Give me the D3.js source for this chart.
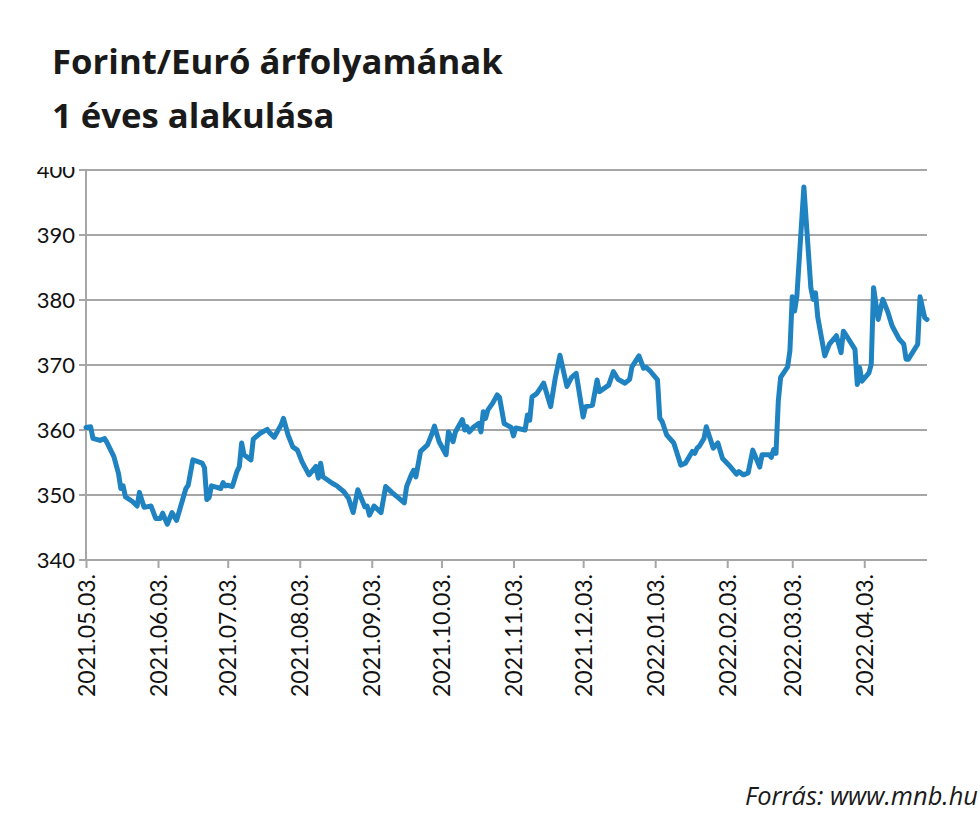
<!DOCTYPE html>
<html>
<head>
<meta charset="utf-8">
<script src="https://cdn.jsdelivr.net/npm/d3@7/dist/d3.min.js"></script>
<style>
  html, body { margin: 0; padding: 0; background: #ffffff; }
  svg { display: block; }
</style>
</head>
<body>
<svg id="chart" width="980" height="819"></svg>
<script>
// ---- DATA ----
const titleLines = ["Forint/Euró árfolyamának", "1 éves alakulása"];
const sourceText = "Forrás: www.mnb.hu";
const yTicks = [340, 350, 360, 370, 380, 390, 400];
const xTickDates = ["2021-05-03","2021-06-03","2021-07-03","2021-08-03","2021-09-03","2021-10-03",
                    "2021-11-03","2021-12-03","2022-01-03","2022-02-03","2022-03-03","2022-04-03"];
const xDomain = ["2021-05-03", "2022-04-30"];
const dates = [
 "2021-05-03","2021-05-05","2021-05-06","2021-05-09","2021-05-11","2021-05-12","2021-05-15","2021-05-17","2021-05-18","2021-05-19",
 "2021-05-20","2021-05-23","2021-05-25","2021-05-26","2021-05-28","2021-05-31","2021-06-02","2021-06-04","2021-06-05","2021-06-07",
 "2021-06-09","2021-06-11","2021-06-15","2021-06-16","2021-06-18","2021-06-22","2021-06-23","2021-06-24","2021-06-25","2021-06-26",
 "2021-06-28","2021-06-30","2021-07-01","2021-07-02","2021-07-03","2021-07-05","2021-07-07","2021-07-08","2021-07-09","2021-07-10",
 "2021-07-13","2021-07-14","2021-07-17","2021-07-20","2021-07-21","2021-07-23","2021-07-26","2021-07-27","2021-07-29","2021-07-31",
 "2021-08-02","2021-08-04","2021-08-07","2021-08-10","2021-08-11","2021-08-12","2021-08-13","2021-08-17","2021-08-19","2021-08-22",
 "2021-08-24","2021-08-26","2021-08-28","2021-08-31","2021-09-01","2021-09-02","2021-09-04","2021-09-07","2021-09-09","2021-09-12",
 "2021-09-14","2021-09-17","2021-09-18","2021-09-20","2021-09-21","2021-09-22","2021-09-24","2021-09-27","2021-09-29","2021-09-30",
 "2021-10-02","2021-10-05","2021-10-06","2021-10-08","2021-10-09","2021-10-12","2021-10-13","2021-10-14","2021-10-15","2021-10-17",
 "2021-10-19","2021-10-20","2021-10-21","2021-10-22","2021-10-23","2021-10-25","2021-10-27","2021-10-28","2021-10-30","2021-11-02",
 "2021-11-03","2021-11-04","2021-11-08","2021-11-09","2021-11-10","2021-11-11","2021-11-13","2021-11-16","2021-11-19","2021-11-21",
 "2021-11-23","2021-11-26","2021-11-28","2021-11-30","2021-12-03","2021-12-04","2021-12-07","2021-12-09","2021-12-10","2021-12-14",
 "2021-12-16","2021-12-18","2021-12-21","2021-12-23","2021-12-24","2021-12-27","2021-12-29","2021-12-30","2022-01-01","2022-01-04",
 "2022-01-05","2022-01-06","2022-01-08","2022-01-11","2022-01-12","2022-01-14","2022-01-16","2022-01-19","2022-01-20","2022-01-21",
 "2022-01-22","2022-01-24","2022-01-25","2022-01-28","2022-01-30","2022-02-01","2022-02-04","2022-02-07","2022-02-08","2022-02-10",
 "2022-02-12","2022-02-14","2022-02-17","2022-02-18","2022-02-21","2022-02-22","2022-02-23","2022-02-24","2022-02-25","2022-02-26",
 "2022-03-01","2022-03-02","2022-03-03","2022-03-04","2022-03-05","2022-03-08","2022-03-11","2022-03-12","2022-03-13","2022-03-14",
 "2022-03-17","2022-03-19","2022-03-22","2022-03-24","2022-03-25","2022-03-26","2022-03-30","2022-03-31","2022-04-01","2022-04-02",
 "2022-04-05","2022-04-06","2022-04-07","2022-04-09","2022-04-11","2022-04-13","2022-04-15","2022-04-18","2022-04-20","2022-04-21",
 "2022-04-22","2022-04-26","2022-04-27","2022-04-29","2022-04-30"
];
const rates = [
 360.4,360.5,358.7,358.4,358.7,358.1,355.9,353.3,351.0,351.4,
 349.7,349.0,348.3,350.4,348.1,348.3,346.4,346.4,347.2,345.5,
 347.3,346.1,351.0,351.5,355.4,354.9,354.2,349.3,349.6,351.4,
 351.2,351.0,351.9,351.4,351.5,351.3,353.6,354.4,358.0,356.2,
 355.4,358.6,359.5,360.1,359.6,358.9,360.8,361.8,359.2,357.4,
 356.9,355.1,353.1,354.4,352.6,354.9,352.8,351.8,351.4,350.5,
 349.5,347.3,350.8,348.2,348.3,346.9,348.3,347.3,351.3,350.3,
 349.7,348.8,351.3,353.1,353.8,352.8,356.7,357.7,359.5,360.6,
 358.2,356.2,359.7,358.2,359.7,361.6,360.0,360.5,359.7,360.5,
 361.0,359.7,362.8,361.8,363.1,364.1,365.4,365.0,361.0,360.4,
 359.1,360.3,360.0,362.3,361.5,365.1,365.6,367.2,363.6,368.0,
 371.5,366.7,368.1,368.7,362.0,363.6,363.8,367.7,365.9,366.9,
 369.0,367.8,367.2,367.8,369.7,371.4,369.5,369.7,369.0,367.7,
 361.8,361.3,359.2,358.0,356.9,354.6,354.9,356.7,356.4,357.2,
 357.5,358.7,360.5,357.2,358.0,355.6,354.5,353.2,353.6,353.1,
 353.4,356.9,354.3,356.2,356.2,355.8,357.0,356.4,364.5,368.1,
 369.7,372.2,380.5,378.3,380.6,397.4,381.9,380.1,381.1,377.3,
 371.4,373.2,374.5,371.9,375.2,374.7,372.4,367.0,369.6,367.5,
 368.8,370.1,381.9,377.0,380.1,378.3,376.0,374.0,373.2,370.9,
 370.9,373.2,380.5,377.3,377.0
];

// ---- CHART ----
const svg = d3.select("#chart");
const W = 980, H = 819;
const plot = { left: 86, right: 927, top: 170, bottom: 560 };
const parse = d3.utcParse("%Y-%m-%d");
const fmt = d3.utcFormat("%Y.%m.%d.");

const data = dates.map((d, i) => ({ date: parse(d), value: rates[i] }));

const x = d3.scaleUtc().domain(xDomain.map(parse)).range([plot.left, plot.right]);
const y = d3.scaleLinear().domain([340, 400]).range([plot.bottom, plot.top]);

const gridColor = "#a6a6a6";
const humanist = "'Open Sans', Lato, sans-serif";

// helper: fit a text element to a target width by adjusting font size
function fitWidth(sel, target) {
  sel.each(function() {
    const len = this.getComputedTextLength();
    const fs = parseFloat(d3.select(this).attr("font-size"));
    if (len > 0) d3.select(this).attr("font-size", (fs * target / len).toFixed(2));
  });
}

// Title
const titleSel = svg.append("g").selectAll("text").data(titleLines).join("text")
  .attr("x", 52)
  .attr("y", (d, i) => 74 + i * 54)
  .attr("font-family", humanist)
  .attr("font-weight", 700)
  .attr("font-size", 33)
  .attr("fill", "#1a1a1a")
  .text(d => d);
fitWidth(titleSel.filter((d, i) => i === 0), 451);
titleSel.filter((d, i) => i === 1).attr("font-size", titleSel.filter((d, i) => i === 0).attr("font-size"));

// clip for y labels (top label is cut in original)
svg.append("defs").append("clipPath").attr("id", "chartClip")
  .append("rect").attr("x", 0).attr("y", 167).attr("width", W).attr("height", H - 167);

// gridlines
const grid = svg.append("g");
grid.selectAll("line").data(yTicks.filter(v => v !== 340)).join("line")
  .attr("x1", plot.left - 7).attr("x2", plot.right)
  .attr("y1", d => y(d)).attr("y2", d => y(d))
  .attr("stroke", gridColor).attr("stroke-width", 2);

// y labels
const yLabels = svg.append("g").attr("clip-path", "url(#chartClip)");
yLabels.selectAll("text").data(yTicks).join("text")
  .attr("x", 75)
  .attr("y", d => y(d))
  .attr("dy", "0.35em")
  .attr("text-anchor", "end")
  .attr("font-family", "Lato, 'Open Sans', sans-serif")
  .attr("font-size", 22)
  .attr("fill", "#111")
  .text(d => d);

// Left axis line
svg.append("line")
  .attr("x1", plot.left).attr("x2", plot.left)
  .attr("y1", plot.top).attr("y2", plot.bottom)
  .attr("stroke", gridColor).attr("stroke-width", 2);

// Bottom axis
const xAxis = d3.axisBottom(x)
  .tickValues(xTickDates.map(parse))
  .tickSize(8)
  .tickFormat(fmt);
const xg = svg.append("g").attr("transform", `translate(0,${plot.bottom})`).call(xAxis);
xg.select(".domain").attr("stroke", gridColor).attr("stroke-width", 2)
  .attr("d", `M${plot.left - 7},0H${plot.right}`);
xg.selectAll(".tick line").attr("stroke", gridColor).attr("stroke-width", 2);
xg.selectAll(".tick text")
  .attr("font-family", "Lato, 'Open Sans', sans-serif")
  .attr("font-size", 23)
  .attr("fill", "#111")
  .attr("text-anchor", "end")
  .attr("transform", "rotate(-90)")
  .attr("x", -14)
  .attr("y", 0)
  .attr("dy", "0.35em");

// Line
const line = d3.line().x(d => x(d.date)).y(d => y(d.value)).curve(d3.curveLinear);
svg.append("path")
  .datum(data)
  .attr("d", line)
  .attr("fill", "none")
  .attr("stroke", "#1f82c1")
  .attr("stroke-width", 5)
  .attr("stroke-linejoin", "round")
  .attr("stroke-linecap", "round");

// Source
const src = svg.append("text")
  .attr("x", 978)
  .attr("y", 805)
  .attr("text-anchor", "end")
  .attr("font-family", humanist)
  .attr("font-style", "italic")
  .attr("font-size", 22)
  .attr("fill", "#1a1a1a")
  .text(sourceText);
fitWidth(src, 233);
</script>
</body>
</html>
